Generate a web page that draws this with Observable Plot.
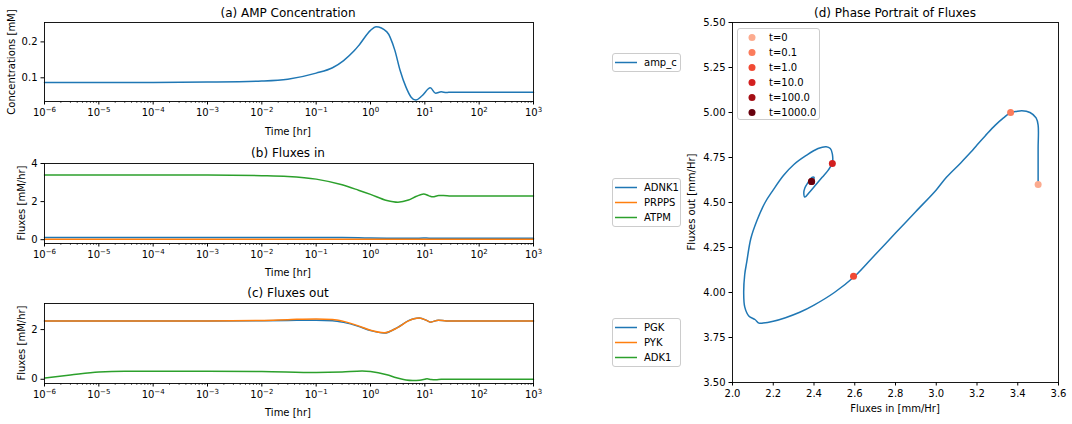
<!DOCTYPE html>
<html><head><meta charset="utf-8">
<script src="https://cdn.jsdelivr.net/npm/d3@7"></script>
<script src="https://cdn.jsdelivr.net/npm/@observablehq/plot@0.6"></script>
<style>
body{margin:0;background:#fff;font-family:"DejaVu Sans",sans-serif;}
#root{position:relative;width:1072px;height:424px;overflow:hidden;background:#fff;}
#root svg{position:absolute;left:0;top:0;}
.lbl{position:absolute;white-space:nowrap;transform:translate(-50%,-50%);color:#000;line-height:1;}
.title{font-size:12px;}
.axl{font-size:10px;}
.rot{transform:translate(-50%,-50%) rotate(-90deg);}
.legend{position:absolute;border:1px solid #cccccc;border-radius:3px;background:rgba(255,255,255,0.8);font-size:10px;color:#000;box-sizing:border-box;}
.row{position:absolute;left:0;height:15px;line-height:15px;white-space:nowrap;}
</style></head><body><div id="root"></div>
<script>
// ---------- data ----------
const xTicksLog = [1e-6, 1e-5, 1e-4, 1e-3, 1e-2, 1e-1, 1, 10, 100, 1000];

// (a) AMP concentration
const timeA = [1e-6, 1e-4, 1e-3, 1e-2, 3e-2, 0.1, 0.2, 0.32, 0.5, 0.63, 1.0, 1.26, 2.0, 2.8, 3.5, 4.5, 5.6, 6.8, 8.9, 12.6, 15.8, 20, 25, 30, 100, 1000];
const ampC  = [0.087, 0.087, 0.088, 0.091, 0.096, 0.113, 0.128, 0.148, 0.175, 0.193, 0.232, 0.242, 0.228, 0.177, 0.121, 0.074, 0.046, 0.038, 0.05, 0.072, 0.057, 0.061, 0.059, 0.06, 0.06, 0.06];

// (b) fluxes in
const timeB = [1e-6, 1e-3, 1e-2, 3e-2, 0.1, 0.3, 0.6, 1, 2, 3.2, 5, 7, 9.5, 12, 14, 18, 22, 30, 100, 1000];
const adnk1 = [0.12, 0.12, 0.12, 0.12, 0.115, 0.11, 0.1, 0.09, 0.08, 0.075, 0.075, 0.08, 0.085, 0.08, 0.08, 0.08, 0.08, 0.08, 0.08, 0.08];
const prpps = [0.02, 0.02, 0.02, 0.02, 0.02, 0.02, 0.02, 0.02, 0.02, 0.02, 0.02, 0.02, 0.02, 0.02, 0.02, 0.02, 0.02, 0.02, 0.02, 0.02];
const atpm  = [3.39, 3.39, 3.36, 3.32, 3.18, 2.88, 2.6, 2.38, 2.06, 1.97, 2.08, 2.28, 2.4, 2.3, 2.25, 2.32, 2.32, 2.29, 2.29, 2.29];

// (c) fluxes out
const timeC = [1e-6, 1e-3, 1e-2, 3e-2, 0.1, 0.2, 0.32, 0.6, 1.0, 1.78, 3.16, 5, 6.3, 7.9, 11.2, 12.6, 17.8, 25, 100, 1000];
const pgk   = [2.35, 2.35, 2.36, 2.37, 2.38, 2.36, 2.29, 2.13, 1.96, 1.86, 2.09, 2.36, 2.44, 2.47, 2.35, 2.30, 2.38, 2.35, 2.35, 2.35];
const pyk   = [2.35, 2.35, 2.37, 2.40, 2.43, 2.41, 2.33, 2.15, 1.97, 1.87, 2.08, 2.35, 2.44, 2.47, 2.35, 2.30, 2.38, 2.35, 2.35, 2.35];
const timeK = [1e-6, 3e-6, 1e-5, 3e-5, 1e-4, 1e-3, 1e-2, 0.1, 0.3, 0.7, 1.0, 2, 3, 4.5, 6, 8, 10, 11, 13, 16, 20, 30, 1000];
const adk1  = [0.05, 0.17, 0.29, 0.32, 0.32, 0.32, 0.31, 0.27, 0.29, 0.33, 0.31, 0.18, 0.06, -0.03, -0.05, -0.04, 0.0, 0.02, -0.01, -0.02, 0.0, 0.0, 0.0];

// (d) phase portrait
const phaseIn  = [3.50, 3.50, 3.50, 3.49, 3.46, 3.42, 3.39, 3.365, 3.33, 3.29, 3.24, 3.20, 3.17, 3.12, 3.05, 3.00, 2.90, 2.80, 2.70, 2.60, 2.50, 2.40, 2.33, 2.26, 2.20, 2.15, 2.13, 2.11, 2.08, 2.06, 2.055, 2.06, 2.07, 2.09, 2.12, 2.16, 2.20, 2.25, 2.30, 2.36, 2.42, 2.46, 2.48, 2.49, 2.49, 2.47, 2.44, 2.41, 2.38, 2.355, 2.35, 2.355, 2.37, 2.39, 2.40, 2.395, 2.39];
const phaseOut = [4.60, 4.80, 4.93, 4.97, 5.00, 5.01, 5.005, 5.00, 4.97, 4.93, 4.87, 4.82, 4.78, 4.72, 4.64, 4.57, 4.45, 4.33, 4.21, 4.09, 4.00, 3.93, 3.89, 3.86, 3.84, 3.83, 3.83, 3.85, 3.87, 3.92, 4.00, 4.10, 4.17, 4.30, 4.40, 4.50, 4.57, 4.65, 4.71, 4.76, 4.80, 4.81, 4.80, 4.77, 4.72, 4.68, 4.64, 4.60, 4.56, 4.53, 4.55, 4.58, 4.61, 4.64, 4.64, 4.62, 4.62];
const markLabels = ["t=0", "t=0.1", "t=1.0", "t=10.0", "t=100.0", "t=1000.0"];
const markIn  = [3.50, 3.365, 2.594, 2.49, 2.388, 2.388];
const markOut = [4.60, 5.00, 4.09, 4.717, 4.617, 4.617];
const phaseXTicks = [2.0, 2.2, 2.4, 2.6, 2.8, 3.0, 3.2, 3.4, 3.6];
const phaseYTicks = [3.5, 3.75, 4.0, 4.25, 4.5, 4.75, 5.0, 5.25, 5.5];

// ---------- styles ----------
const C_BLUE = "#1f77b4", C_ORANGE = "#ff7f0e", C_GREEN = "#2ca02c";
const markColors = ["#fcab8f", "#fb7c5c", "#f14a34", "#d32020", "#a50f15", "#67000d"];

const W = 1072, H = 424;
const root = document.getElementById("root");
const fmtPow = d => "10^" + Math.round(Math.log10(d));
const minorLog = [];
for (let k = -6; k < 3; k++) for (let m = 2; m <= 9; m++) minorLog.push(m * Math.pow(10, k));

function rows(xs, ys) { return xs.map((x, i) => ({x, y: ys[i]})); }

function plotAt(box, x, y, marks) {
  const svg = Plot.plot({
    width: W, height: H,
    marginLeft: box.L, marginRight: W - box.R, marginTop: box.T, marginBottom: H - box.B,
    x: {...x, label: null}, y: {...y, label: null},
    style: {background: "transparent", fontFamily: "DejaVu Sans", fontSize: "10px", color: "#000", overflow: "visible"},
    marks
  });
  root.appendChild(svg);
  // render 10^k tick labels with a real superscript
  svg.querySelectorAll("text").forEach(t => {
    const m = t.textContent.match(/^10\^(-?\d+)$/);
    if (!m) return;
    t.textContent = "10";
    const ts = document.createElementNS("http://www.w3.org/2000/svg", "tspan");
    ts.setAttribute("dy", "-0.45em");
    ts.setAttribute("font-size", "7px");
    ts.textContent = m[1].replace("-", "\u2212");
    t.appendChild(ts);
  });
}

function label(text, x, y, cls) {
  const d = document.createElement("div");
  d.className = "lbl " + cls;
  d.style.left = x + "px"; d.style.top = y + "px";
  d.textContent = text;
  root.appendChild(d);
}

function logPanel(box, yDomain, yTicks, yFmt, series) {
  plotAt(box,
    {type: "log", domain: [1e-6, 1e3]},
    {domain: yDomain},
    [
      ...series.map(s => Plot.line(rows(s.t, s.v), {x: "x", y: "y", stroke: s.color, strokeWidth: 1.5, curve: "monotone-x"})),
      Plot.axisX(minorLog, {tickSize: 2, tickFormat: () => "", label: null, strokeWidth: 0.6}),
      Plot.axisX(xTicksLog, {tickSize: 3.5, tickPadding: 3.5, tickFormat: fmtPow, label: null}),
      Plot.axisY(yTicks, {tickSize: 3.5, tickPadding: 3.5, tickFormat: yFmt, label: null}),
      Plot.frame({stroke: "#000", strokeWidth: 0.9})
    ]);
}

// (a)
logPanel({L: 44, R: 533, T: 22, B: 101}, [0.034, 0.254], [0.1, 0.2], d3.format(".1f"),
  [{t: timeA, v: ampC, color: C_BLUE}]);
// (b)
logPanel({L: 44, R: 533, T: 163, B: 243}, [-0.2, 4.0], [0, 2, 4], d3.format("d"),
  [{t: timeB, v: adnk1, color: C_BLUE}, {t: timeB, v: prpps, color: C_ORANGE}, {t: timeB, v: atpm, color: C_GREEN}]);
// (c)
logPanel({L: 44, R: 533, T: 303, B: 383}, [-0.17, 3.05], [0, 2], d3.format("d"),
  [{t: timeC, v: pgk, color: C_BLUE}, {t: timeC, v: pyk, color: C_ORANGE}, {t: timeK, v: adk1, color: C_GREEN}]);

// (d)
const markRows = markIn.map((x, i) => ({x, y: markOut[i], c: markColors[i]}));
plotAt({L: 732, R: 1058, T: 22, B: 382},
  {domain: [2.0, 3.6]}, {domain: [3.5, 5.5]},
  [
    Plot.line(rows(phaseIn, phaseOut), {x: "x", y: "y", stroke: C_BLUE, strokeWidth: 1.5, curve: "catmull-rom"}),
    Plot.dot(markRows, {x: "x", y: "y", fill: "c", r: 3.5}),
    Plot.axisX(phaseXTicks, {tickSize: 3.5, tickPadding: 3.5, tickFormat: d3.format(".1f"), label: null}),
    Plot.axisY(phaseYTicks, {tickSize: 3.5, tickPadding: 3.5, tickFormat: d3.format(".2f"), label: null}),
    Plot.frame({stroke: "#000", strokeWidth: 0.9})
  ]);

// titles & axis labels
label("(a) AMP Concentration", 288, 13, "title");
label("(b) Fluxes in", 288, 153, "title");
label("(c) Fluxes out", 288, 293, "title");
label("(d) Phase Portrait of Fluxes", 895, 13, "title");
label("Time [hr]", 288, 132, "axl");
label("Time [hr]", 288, 273, "axl");
label("Time [hr]", 288, 413, "axl");
label("Concentrations [mM]", 12, 62, "axl rot");
label("Fluxes [mM/hr]", 22, 203, "axl rot");
label("Fluxes [mM/hr]", 22, 343, "axl rot");
label("Fluxes in [mm/Hr]", 895, 409, "axl");
label("Fluxes out [mm/Hr]", 692, 202, "axl rot");

// legends
function lineLegend(x, y, w, items) {
  const d = document.createElement("div");
  d.className = "legend";
  d.style.left = x + "px"; d.style.top = y + "px"; d.style.width = w + "px";
  d.style.height = (items.length * 15 + 4) + "px";
  items.forEach((it, i) => {
    const r = document.createElement("div");
    r.className = "row";
    r.style.top = (1 + i * 15) + "px";
    r.innerHTML = `<svg width="24" height="15" style="position:absolute;left:1px;top:0"><line x1="1" x2="23" y1="7.5" y2="7.5" stroke="${it.color}" stroke-width="1.5"/></svg><span style="position:absolute;left:31px">${it.label}</span>`;
    d.appendChild(r);
  });
  root.appendChild(d);
}
function dotLegend(x, y, w, items) {
  const d = document.createElement("div");
  d.className = "legend";
  d.style.left = x + "px"; d.style.top = y + "px"; d.style.width = w + "px";
  d.style.height = (items.length * 15 + 2) + "px";
  items.forEach((it, i) => {
    const r = document.createElement("div");
    r.className = "row";
    r.style.top = (0.5 + i * 15) + "px";
    r.innerHTML = `<svg width="24" height="15" style="position:absolute;left:1px;top:0"><circle cx="13" cy="7.5" r="3.5" fill="${it.color}"/></svg><span style="position:absolute;left:31px">${it.label}</span>`;
    d.appendChild(r);
  });
  root.appendChild(d);
}
lineLegend(612, 53, 69, [{label: "amp_c", color: C_BLUE}]);
lineLegend(612, 178, 69, [{label: "ADNK1", color: C_BLUE}, {label: "PRPPS", color: C_ORANGE}, {label: "ATPM", color: C_GREEN}]);
lineLegend(612, 318, 69, [{label: "PGK", color: C_BLUE}, {label: "PYK", color: C_ORANGE}, {label: "ADK1", color: C_GREEN}]);
dotLegend(737, 28, 83, markLabels.map((l, i) => ({label: l, color: markColors[i]})));
</script>
</body></html>
